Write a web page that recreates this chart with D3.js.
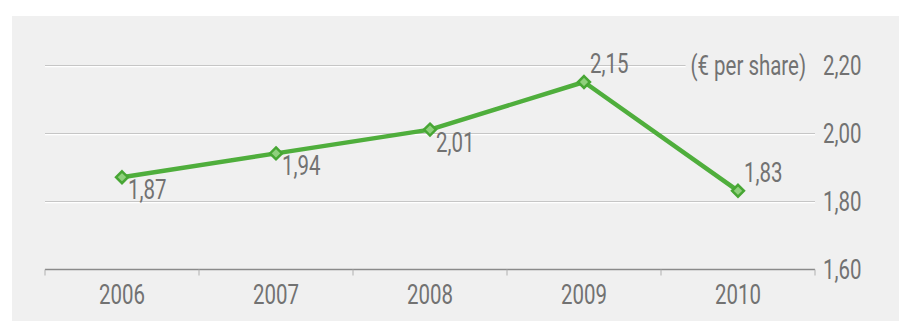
<!DOCTYPE html>
<html>
<head>
<meta charset="utf-8">
<script src="https://cdn.jsdelivr.net/npm/d3@7"></script>
<style>
  html, body { margin: 0; padding: 0; background: #ffffff; }
  svg { display: block; }
  text { font-family: "Roboto", sans-serif; fill: #727272; }
</style>
</head>
<body>
<svg id="chart" width="899" height="321"></svg>
<script>
// Dividend per share, 2006–2010
const years = ["2006", "2007", "2008", "2009", "2010"];
const dividend = [1.87, 1.94, 2.01, 2.15, 1.83];
const yTicks = [1.60, 1.80, 2.00, 2.20];
const unitLabel = "(€ per share)";
// label placement: below-right for the first three points, above for the last two
const labelAbove = [false, false, false, true, true];

const W = 899, H = 321;
const margin = { left: 45, right: 84, top: 65, bottom: 52 };
const FONT = 28, SX = 0.73;   // condensed type: tall glyphs squeezed horizontally
const svg = d3.select("#chart");

// panel background
svg.append("rect")
  .attr("x", 12).attr("y", 16)
  .attr("width", W - 12).attr("height", H - 16)
  .attr("fill", "#f0f0f0");

const x = d3.scaleBand()
  .domain(years)
  .range([margin.left, W - margin.right])
  .paddingInner(0).paddingOuter(0);

const y = d3.scaleLinear()
  .domain([1.60, 2.20])
  .range([H - margin.bottom, margin.top]);

const fmt = v => d3.format(".2f")(v).replace(".", ",");
const place = (px, py) => `translate(${px},${py}) scale(${SX},1)`;

// horizontal gridlines (embossed look: grey line with white line under it)
const grid = svg.append("g");
yTicks.filter(t => t > 1.6).forEach(t => {
  const yy = Math.round(y(t)) + 0.5;
  grid.append("line")
    .attr("x1", margin.left).attr("x2", W - margin.right)
    .attr("y1", yy + 1).attr("y2", yy + 1)
    .attr("stroke", "#ffffff").attr("stroke-width", 1.5);
  grid.append("line")
    .attr("x1", margin.left).attr("x2", W - margin.right)
    .attr("y1", yy).attr("y2", yy)
    .attr("stroke", "#c6c6c6").attr("stroke-width", 1.2);
});

// bottom category axis with boundary ticks
const axisY = Math.round(y(1.60)) + 0.5;
svg.append("line")
  .attr("x1", margin.left).attr("x2", W - margin.right)
  .attr("y1", axisY).attr("y2", axisY)
  .attr("stroke", "#8a8a8a").attr("stroke-width", 1.3);
const bounds = years.map(d => x(d)).concat([x(years[years.length - 1]) + x.bandwidth()]);
svg.append("g").selectAll("line").data(bounds).join("line")
  .attr("x1", d => d).attr("x2", d => d)
  .attr("y1", axisY).attr("y2", axisY + 6)
  .attr("stroke", "#b0b0b0").attr("stroke-width", 1);

svg.append("g").selectAll("text").data(years).join("text")
  .attr("transform", d => place(x(d) + x.bandwidth() / 2, axisY + 34))
  .attr("text-anchor", "middle")
  .attr("font-size", FONT)
  .text(d => d);

// right value axis labels
svg.append("g").selectAll("text").data(yTicks).join("text")
  .attr("transform", d => place(W - margin.right + 8, y(d) + 10))
  .attr("font-size", FONT)
  .text(d => fmt(d));

// unit label, sitting on the top gridline with a panel-coloured backing
const unitG = svg.append("g");
const unitBack = unitG.append("rect").attr("fill", "#f0f0f0");
const unitRight = W - margin.right - 9;
const unit = unitG.append("text")
  .attr("transform", place(unitRight, y(2.20) + 10))
  .attr("text-anchor", "end")
  .attr("font-size", FONT)
  .text(unitLabel);
const uw = unit.node().getComputedTextLength() * SX;
unitBack
  .attr("x", unitRight - uw - 5).attr("y", y(2.20) - 3)
  .attr("width", uw + 5 + (W - margin.right - unitRight)).attr("height", 6);

// the line
const cx = (d, i) => x(years[i]) + x.bandwidth() / 2;
const line = d3.line().x(cx).y(d => y(d));
svg.append("path")
  .datum(dividend)
  .attr("d", line)
  .attr("fill", "none")
  .attr("stroke", "#4fae3c")
  .attr("stroke-width", 4.5)
  .attr("stroke-linejoin", "round");

// diamond markers
const diamond = d3.symbol().type(d3.symbolDiamond2).size(90);
svg.append("g").selectAll("path").data(dividend).join("path")
  .attr("transform", (d, i) => `translate(${cx(d, i)},${y(d)})`)
  .attr("d", diamond)
  .attr("fill", "#8fd07c")
  .attr("stroke", "#47a634")
  .attr("stroke-width", 2.5);

// value labels
svg.append("g").selectAll("text").data(dividend).join("text")
  .attr("transform", (d, i) => place(cx(d, i) + 6, labelAbove[i] ? y(d) - 9 : y(d) + 22))
  .attr("font-size", FONT)
  .text(d => fmt(d));
</script>
</body>
</html>
